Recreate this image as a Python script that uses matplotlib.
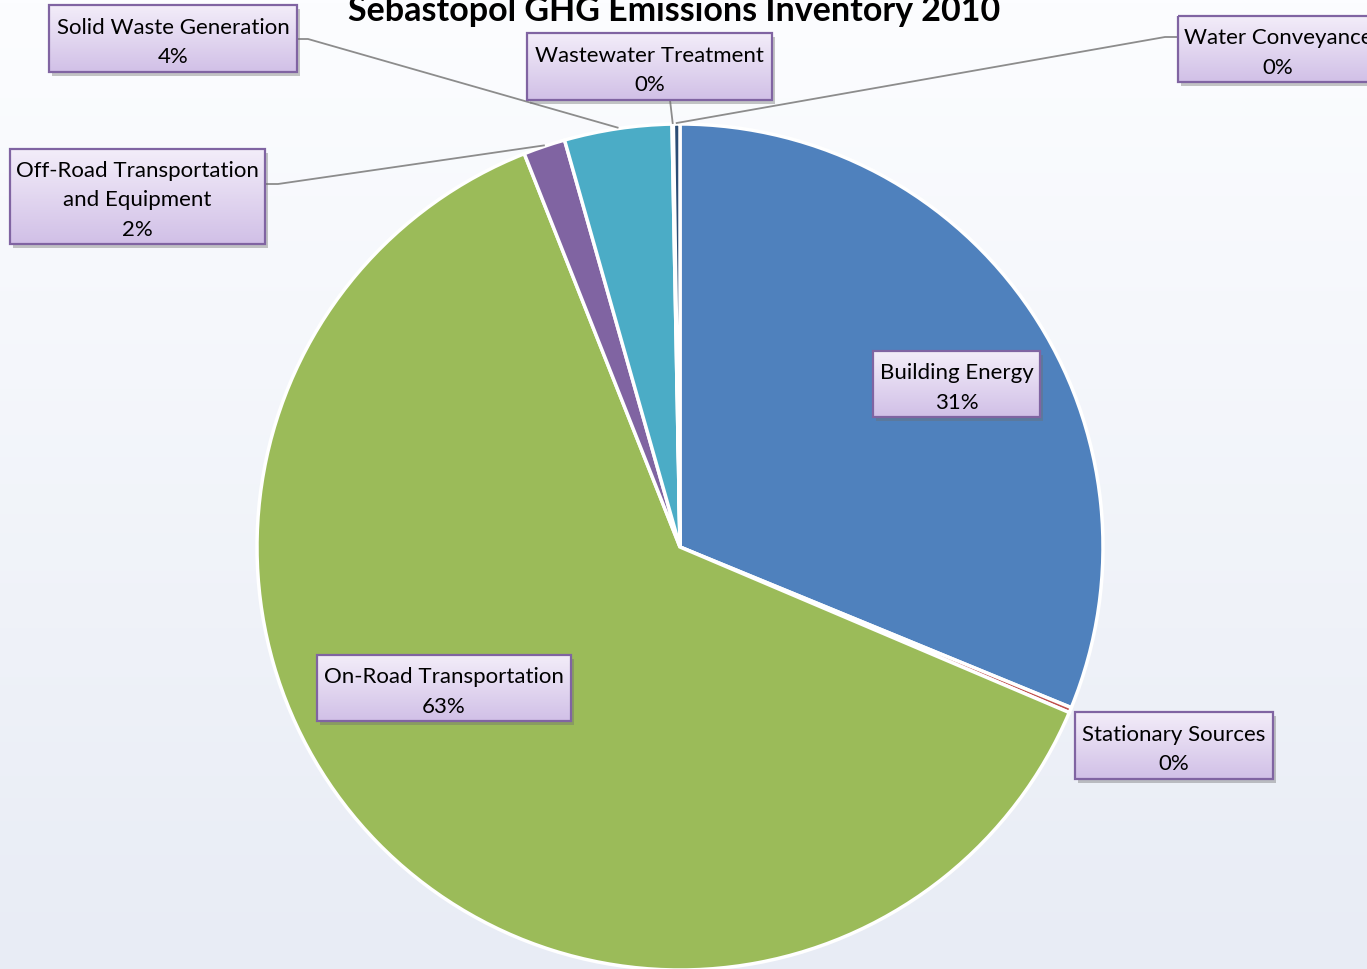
import numpy as np
import matplotlib.pyplot as plt
from matplotlib.patches import Rectangle
from matplotlib.colors import LinearSegmentedColormap

plt.rcParams['font.family'] = ['Lato', 'DejaVu Sans']

# data, clockwise from 12 o'clock
categories = ['Building Energy', 'Stationary Sources', 'On-Road Transportation',
              'Off-Road Transportation\nand Equipment', 'Solid Waste Generation',
              'Wastewater Treatment', 'Water Conveyance']
values = [31.2, 0.2, 62.6, 1.6, 4.1, 0.05, 0.25]
colors = ['#4f81bd', '#c0504d', '#9bbb59', '#8064a2', '#4bacc6', '#f79646', '#2c4d75']
title = 'Sebastopol GHG Emissions Inventory 2010'

W, H = 1367, 970
fig = plt.figure(figsize=(W / 100, H / 100), dpi=100)
ax = fig.add_axes([0, 0, 1, 1])

# background gradient
bg = LinearSegmentedColormap.from_list('bg', ['#fcfdff', '#e8ecf5'])
ax.imshow(np.linspace(0, 1, 256).reshape(-1, 1), extent=(0, W, H, 0), cmap=bg,
          aspect='auto', zorder=0)

cx, cy, r = 680, 548, 423
wedges, _ = ax.pie(values, colors=colors, startangle=-90, counterclock=True,
                   center=(cx, cy), radius=r,
                   wedgeprops=dict(edgecolor='white', linewidth=2.5))
for w in wedges:
    w.set_zorder(2)

box_cmap = LinearSegmentedColormap.from_list('box', ['#f3edf9', '#d1c0e7'])
grad = np.linspace(0, 1, 64).reshape(-1, 1)

# label boxes: (x0, y0, w, h) in pixels
boxes = [(873, 352, 167, 66), (1075, 713, 198, 67), (317, 656, 254, 66),
         (10, 150, 255, 95), (49, 6, 248, 67), (527, 34, 245, 67), (1178, 17, 200, 66)]
# leader lines: elbow point next to box, None = no line
elbows = [None, None, None, [(265, 185), (278, 185)], [(297, 40), (308, 40)],
          [(670, 101), (670, 101)], [(1178, 38), (1165, 38)]]

total = sum(values)
for i, (x0, y0, bw, bh) in enumerate(boxes):
    ax.add_patch(Rectangle((x0 + 3, y0 + 4), bw, bh, fc='#6f6f6f', alpha=0.4,
                           ec='none', zorder=5))
    ax.imshow(grad, extent=(x0, x0 + bw, y0 + bh, y0), cmap=box_cmap,
              aspect='auto', zorder=6)
    ax.add_patch(Rectangle((x0, y0), bw, bh, fc='none', ec='#8064a2', lw=1.6, zorder=7))
    pct = round(values[i] / total * 100)
    ax.text(x0 + bw / 2, y0 + bh / 2 + 3, f'{categories[i]}\n{pct}%', ha='center',
            va='center', fontsize=16, color='black', linespacing=1.6, zorder=8)

    if elbows[i] is not None:
        wd = wedges[i]
        mid = np.deg2rad((wd.theta1 + wd.theta2) / 2)
        ex = cx + (r + 1) * np.cos(mid)
        ey = cy + (r + 1) * np.sin(mid)
        (ax0, ay0), (ax1, ay1) = elbows[i]
        ax.plot([ax0, ax1, ex], [ay0, ay1, ey], color='#8c8c8c', lw=1.3, zorder=4)

ax.text(674, 21, title, ha='center', va='baseline', fontsize=24.5, fontweight='bold',
        color='black', zorder=9)

ax.set_xlim(0, W)
ax.set_ylim(H, 0)
ax.set_aspect('auto')
ax.axis('off')

fig.savefig('out.png', dpi=100)
